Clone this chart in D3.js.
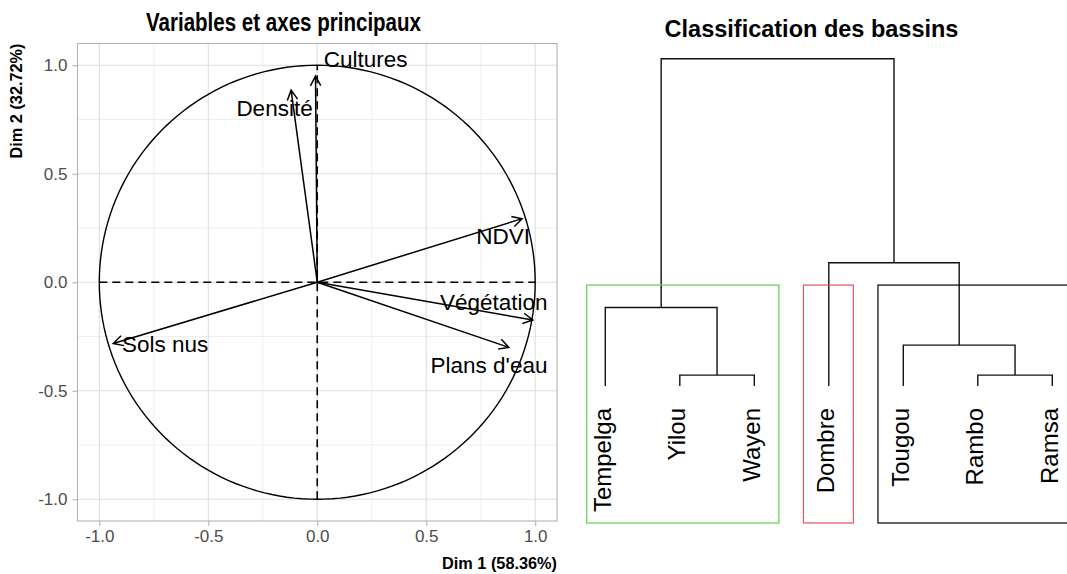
<!DOCTYPE html>
<html>
<head>
<meta charset="utf-8">
<script src="https://cdn.jsdelivr.net/npm/d3@7"></script>
<style>
  html, body { margin: 0; padding: 0; background: #fff; }
  svg { display: block; }
</style>
</head>
<body>
<script>
// ---------------- DATA ----------------
// PCA variable coordinates (correlation circle)
const variables = ["Cultures", "Densité", "NDVI", "Végétation", "Plans d'eau", "Sols nus"];
const dim1 = [-0.008, -0.12, 0.94, 0.989, 0.879, -0.936];
const dim2 = [0.95, 0.885, 0.293, -0.174, -0.300, -0.282];
// label anchor positions (data units)
const labelDim1 = [0.222, -0.196, 0.853, 0.81, 0.788, -0.698];
const labelDim2 = [1.03, 0.801, 0.215, -0.09, -0.381, -0.284];
const majorTicks = [-1.0, -0.5, 0.0, 0.5, 1.0];
const minorTicks = [-0.75, -0.25, 0.25, 0.75];
const tickLabels = ["-1.0", "-0.5", "0.0", "0.5", "1.0"];
const xTitle = "Dim 1 (58.36%)";
const yTitle = "Dim 2 (32.72%)";
const leftTitle = "Variables et axes principaux";

// Dendrogram (hclust-like): leaves in plotting order
const leaves = ["Tempelga", "Yilou", "Wayen", "Dombre", "Tougou", "Rambo", "Ramsa"];
// merges: negative = leaf index (1-based, in leaves order), positive = merge step (1-based)
const mergeLeft  = [-2, -6, -5, -1, -4, 4];
const mergeRight = [-3, -7, 2, 1, 3, 5];
const mergeHeight = [0.20, 0.20, 0.75, 1.44, 2.26, 6.00];
// clusters (k = 3): first & last leaf index, colour
const clusterFirst = [0, 3, 4];
const clusterLast  = [2, 3, 6];
const clusterColor = ["#61D04F", "#DF536B", "#000000"];
const rightTitle = "Classification des bassins";

// ---------------- LAYOUT ----------------
const W = 1067, H = 574;
const svg = d3.select("body").append("svg").attr("width", W).attr("height", H);

const panel = { left: 77.5, right: 557, top: 43.5, bottom: 521 };
const x = d3.scaleLinear().domain([-1.1, 1.1]).range([panel.left, panel.right]);
const y = d3.scaleLinear().domain([-1.1, 1.1]).range([panel.bottom, panel.top]);

const g = svg.append("g");

// grid
g.selectAll(".minx").data(minorTicks).join("line")
  .attr("x1", d => x(d)).attr("x2", d => x(d))
  .attr("y1", panel.top).attr("y2", panel.bottom)
  .attr("stroke", "#ebebeb").attr("stroke-width", 0.8);
g.selectAll(".miny").data(minorTicks).join("line")
  .attr("y1", d => y(d)).attr("y2", d => y(d))
  .attr("x1", panel.left).attr("x2", panel.right)
  .attr("stroke", "#ebebeb").attr("stroke-width", 0.8);
g.selectAll(".majx").data(majorTicks).join("line")
  .attr("x1", d => x(d)).attr("x2", d => x(d))
  .attr("y1", panel.top).attr("y2", panel.bottom)
  .attr("stroke", "#dedede").attr("stroke-width", 1.1);
g.selectAll(".majy").data(majorTicks).join("line")
  .attr("y1", d => y(d)).attr("y2", d => y(d))
  .attr("x1", panel.left).attr("x2", panel.right)
  .attr("stroke", "#dedede").attr("stroke-width", 1.1);

// panel border
g.append("rect")
  .attr("x", panel.left).attr("y", panel.top)
  .attr("width", panel.right - panel.left).attr("height", panel.bottom - panel.top)
  .attr("fill", "none").attr("stroke", "#b3b3b3").attr("stroke-width", 1.1);

// axes (ticks + labels)
const xAxis = d3.axisBottom(x).tickValues(majorTicks).tickFormat((d, i) => tickLabels[i]).tickSize(5).tickPadding(4);
const yAxis = d3.axisLeft(y).tickValues(majorTicks).tickFormat((d, i) => tickLabels[i]).tickSize(5).tickPadding(5);
const gx = svg.append("g").attr("transform", `translate(0,${panel.bottom})`).call(xAxis);
const gy = svg.append("g").attr("transform", `translate(${panel.left},0)`).call(yAxis);
[gx, gy].forEach(a => {
  a.select(".domain").remove();
  a.selectAll(".tick line").attr("stroke", "#b3b3b3").attr("stroke-width", 1.1);
  a.selectAll(".tick text").attr("fill", "#4d4d4d")
    .attr("font-family", "Liberation Sans, Arial, sans-serif").attr("font-size", 17);
});

// axis titles
svg.append("text").text(xTitle)
  .attr("x", panel.right).attr("y", 569).attr("text-anchor", "end")
  .attr("font-family", "Liberation Sans, Arial, sans-serif").attr("font-weight", "bold")
  .attr("font-size", 16.3).attr("fill", "#000");
svg.append("text").text(yTitle)
  .attr("transform", `translate(22,${panel.top}) rotate(-90)`).attr("text-anchor", "end")
  .attr("font-family", "Liberation Sans, Arial, sans-serif").attr("font-weight", "bold")
  .attr("font-size", 16.3).attr("fill", "#000");

// left title (condensed bold)
svg.append("text").text(leftTitle)
  .attr("x", 283.5).attr("y", 31).attr("text-anchor", "middle")
  .attr("font-family", "Liberation Sans Narrow, Arial Narrow, Liberation Sans, sans-serif")
  .attr("font-weight", "bold").attr("font-size", 25).attr("fill", "#000")
  .attr("textLength", 275).attr("lengthAdjust", "spacingAndGlyphs");

// circle
const circ = d3.range(0, 361, 2).map(a => [Math.cos(a * Math.PI / 180), Math.sin(a * Math.PI / 180)]);
g.append("path").datum(circ)
  .attr("d", d3.line().x(d => x(d[0])).y(d => y(d[1])))
  .attr("fill", "none").attr("stroke", "#000").attr("stroke-width", 1.4);

// dashed axes
g.append("line").attr("x1", x(-1)).attr("x2", x(1)).attr("y1", y(0)).attr("y2", y(0))
  .attr("stroke", "#000").attr("stroke-width", 1.6).attr("stroke-dasharray", "8,5");
g.append("line").attr("x1", x(0)).attr("x2", x(0)).attr("y1", y(-1)).attr("y2", y(1))
  .attr("stroke", "#000").attr("stroke-width", 1.6).attr("stroke-dasharray", "8,5");

// arrows
const headLen = 11, headAng = 28 * Math.PI / 180;
variables.forEach((v, i) => {
  const x0 = x(0), y0 = y(0), x1 = x(dim1[i]), y1 = y(dim2[i]);
  const ang = Math.atan2(y1 - y0, x1 - x0);
  const p = d3.path();
  p.moveTo(x0, y0); p.lineTo(x1, y1);
  p.moveTo(x1 - headLen * Math.cos(ang - headAng), y1 - headLen * Math.sin(ang - headAng));
  p.lineTo(x1, y1);
  p.lineTo(x1 - headLen * Math.cos(ang + headAng), y1 - headLen * Math.sin(ang + headAng));
  g.append("path").attr("d", p.toString()).attr("fill", "none")
    .attr("stroke", "#000").attr("stroke-width", 1.5).attr("stroke-linejoin", "miter");
});
g.selectAll(".vlab").data(variables).join("text")
  .text(d => d)
  .attr("x", (d, i) => x(labelDim1[i])).attr("y", (d, i) => y(labelDim2[i]))
  .attr("dy", "0.36em").attr("text-anchor", "middle")
  .attr("font-family", "Liberation Sans, Arial, sans-serif").attr("font-size", 22.5).attr("fill", "#000");

// ---------------- DENDROGRAM ----------------
const dx = d3.scaleLinear().domain([0, leaves.length - 1]).range([605.3, 1052.3]);
const dy = d3.scaleLinear().domain([0, mergeHeight[mergeHeight.length - 1]]).range([386, 58.7]);
const dendLeft = 586.7, rectBottom = 523;

const nodeX = [], nodeH = [];
function childPos(c) {
  if (c < 0) return [dx(-c - 1), 0];
  return [nodeX[c - 1], nodeH[c - 1]];
}
const dg = svg.append("g");
mergeLeft.forEach((l, i) => {
  const [xl, hl] = childPos(l);
  const [xr, hr] = childPos(mergeRight[i]);
  const h = mergeHeight[i];
  nodeX[i] = (xl + xr) / 2; nodeH[i] = h;
  const p = d3.path();
  p.moveTo(xl, dy(hl)); p.lineTo(xl, dy(h)); p.lineTo(xr, dy(h)); p.lineTo(xr, dy(hr));
  dg.append("path").attr("d", p.toString()).attr("fill", "none")
    .attr("stroke", "#111").attr("stroke-width", 1.4);
});

// leaf labels
dg.selectAll(".leaf").data(leaves).join("text")
  .text(d => d)
  .attr("transform", (d, i) => `translate(${dx(i)},408) rotate(-90)`)
  .attr("dy", "0.22em").attr("text-anchor", "end")
  .attr("font-family", "Liberation Sans, Arial, sans-serif").attr("font-size", 24).attr("fill", "#000");

// cluster rectangles
const k = clusterFirst.length;
const hsDesc = mergeHeight.slice().sort((a, b) => b - a);
const rectTop = dy((hsDesc[k - 2] + hsDesc[k - 1]) / 2);
clusterFirst.forEach((f, i) => {
  const xl = Math.max(dx(f - 0.34), dendLeft);
  const xr = dx(clusterLast[i] + 0.33);
  dg.append("rect").attr("x", xl).attr("y", rectTop)
    .attr("width", xr - xl).attr("height", rectBottom - rectTop)
    .attr("fill", "none").attr("stroke", clusterColor[i]).attr("stroke-width", 1.2);
});

// right title
svg.append("text").text(rightTitle)
  .attr("x", 811.5).attr("y", 36.7).attr("text-anchor", "middle")
  .attr("font-family", "Liberation Sans, Arial, sans-serif")
  .attr("font-weight", "bold").attr("font-size", 23.5).attr("fill", "#000");
</script>
</body>
</html>
